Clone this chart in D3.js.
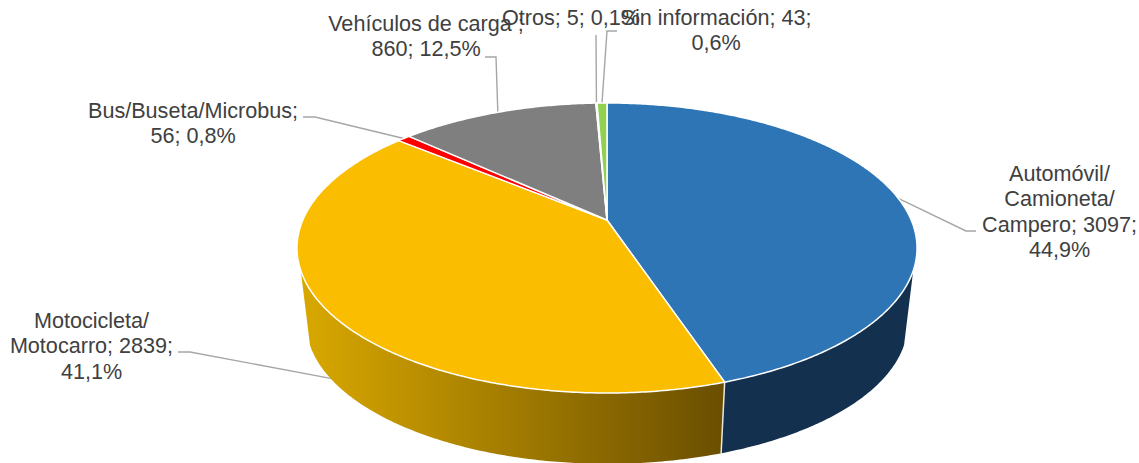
<!DOCTYPE html>
<html lang="es">

<head>
    <meta charset="UTF-8">
    <title>Pie 3D - vehiculos</title>
    <style>
        html, body {
            margin: 0;
            padding: 0;
            background: #fff;
        }

        svg {
            display: block;
            overflow: hidden;
        }

        text {
            font-family: "Liberation Sans", Arial, sans-serif;
            font-size: 21.6px;
            fill: #404040;
            text-anchor: middle;
        }
    </style>
</head>

<body>
    <script src="https://d3js.org/d3.v7.min.js"></script>
    <script>
        // data
        const categories = ['Automóvil/ Camioneta/ Campero', 'Motocicleta/ Motocarro', 'Bus/Buseta/Microbus', 'Vehículos de carga', 'Otros', 'Sin información'];
        const values = [3097, 2839, 56, 860, 5, 43];
        const percents = ['44,9%', '41,1%', '0,8%', '12,5%', '0,1%', '0,6%'];
        const labelLines = [
            ['Automóvil/', 'Camioneta/', 'Campero; 3097;', '44,9%'],
            ['Motocicleta/', 'Motocarro; 2839;', '41,1%'],
            ['Bus/Buseta/Microbus;', '56; 0,8%'],
            ['Vehículos de carga ;', '860; 12,5%'],
            ['Otros; 5; 0,1%'],
            ['Sin información; 43;', '0,6%']
        ];

        const width = 1139;
        const height = 463;

        // label layout: text centre, first baseline, leader elbow and end
        const layout = [
            { x: 1059.5, y: 181, elbow: [966, 231], end: [976, 231], depth: 0 },
            { x: 91.5, y: 328, elbow: [190, 352], end: [178, 352], depth: 0.96 },
            { x: 193, y: 118, elbow: [315, 117], end: [303, 117], depth: 0 },
            { x: 426, y: 31, elbow: [496, 57], end: [485, 57], depth: 0 },
            { x: 571, y: 25, elbow: null, end: [596, 35], depth: 0 },
            { x: 716, y: 25, elbow: [607, 31], end: [617, 31], depth: 0 }
        ];
        const colors = ['#2e75b6', '#fbbd00', '#ff0000', '#7f7f7f', '#5b9bd5', '#92d050'];

        const svg = d3.select('body').append('svg')
            .attr('width', width)
            .attr('height', height);

        // perspective of the disc
        const cx = 607, cy = 220;
        const rimX = 304.2, rimY = 139.6, persp = 0.193;
        const depthY = 76, depthScale = 0.97;

        // angle (clockwise from top) -> screen point, t = 0 top face, t = 1 bottom face
        const project = (a, t = 0, r = 1) => {
            const u = r * Math.sin(a);
            const v = -r * Math.cos(a);
            const w = 1 - persp * v;
            const s = 1 - (1 - depthScale) * t;
            return [cx + s * rimX * u / w, cy + depthY * t + s * rimY * v / w];
        };

        const arcs = d3.pie().sort(null).value(d => d)(values);
        const line = d3.line();

        const rimPoints = (a0, a1, t) => {
            const n = Math.max(2, Math.ceil(Math.abs(a1 - a0) / 0.01));
            return d3.range(n + 1).map(i => project(a0 + (a1 - a0) * i / n, t));
        };

        // gradient of the yellow side
        const defs = svg.append('defs');
        const grad = defs.append('linearGradient')
            .attr('id', 'yellowSide')
            .attr('gradientUnits', 'userSpaceOnUse')
            .attr('x1', 300).attr('x2', 722)
            .attr('y1', 0).attr('y2', 0);
        grad.append('stop').attr('offset', '0%').attr('stop-color', '#d9a800');
        grad.append('stop').attr('offset', '100%').attr('stop-color', '#6b4f00');

        // leader lines
        svg.append('g').selectAll('path').data(arcs).join('path')
            .attr('d', (d, i) => {
                const mid = (d.startAngle + d.endAngle) / 2;
                const l = layout[i];
                const pts = [project(mid, l.depth)];
                if (l.elbow) pts.push(l.elbow);
                pts.push(l.end);
                return line(pts);
            })
            .attr('fill', 'none')
            .attr('stroke', '#a6a6a6')
            .attr('stroke-width', 1.4);

        // side wall, only blue and yellow face the viewer
        const sides = [
            { from: Math.PI * 0.61, to: arcs[0].endAngle, fill: '#13304e' },
            { from: arcs[1].startAngle, to: Math.PI * 1.39, fill: 'url(#yellowSide)' }
        ];
        svg.append('g').selectAll('path').data(sides).join('path')
            .attr('d', d => line(rimPoints(d.from, d.to, 0).concat(rimPoints(d.to, d.from, 1))) + 'Z')
            .attr('fill', d => d.fill);

        // white seam between the two side faces
        svg.append('path')
            .attr('d', line([project(arcs[0].endAngle, 0), project(arcs[0].endAngle, 1)]))
            .attr('stroke', '#e8e8e0')
            .attr('stroke-width', 1.5)
            .attr('fill', 'none');

        // top face
        svg.append('g').selectAll('path').data(arcs).join('path')
            .attr('d', d => line([[cx, cy]].concat(rimPoints(d.startAngle, d.endAngle, 0))) + 'Z')
            .attr('fill', (d, i) => colors[i])
            .attr('stroke', '#fff')
            .attr('stroke-width', 1.5)
            .attr('stroke-linejoin', 'round');

        // labels
        svg.append('g').selectAll('text').data(labelLines).join('text')
            .attr('transform', (d, i) => `translate(${layout[i].x},${layout[i].y})`)
            .selectAll('tspan').data(d => d).join('tspan')
            .attr('x', 0)
            .attr('y', (d, i) => i * 25.3)
            .text(d => d);
    </script>
</body>

</html>
